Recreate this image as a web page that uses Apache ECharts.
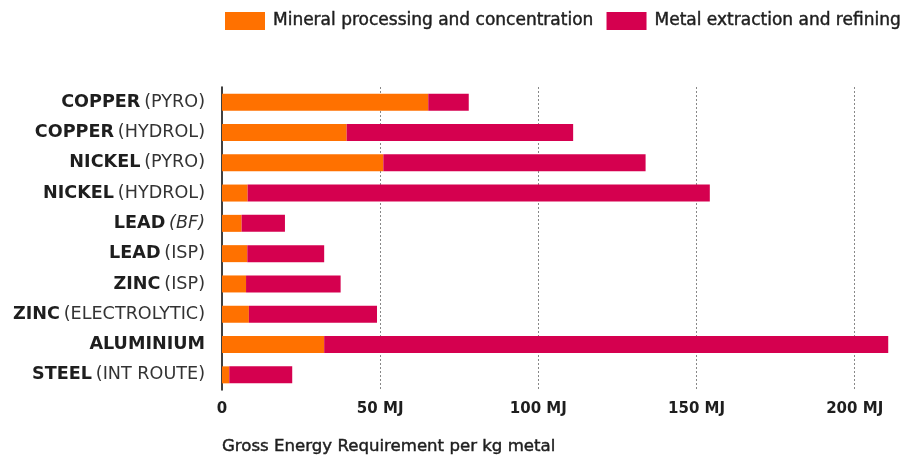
<!DOCTYPE html>
<html>
<head>
<meta charset="utf-8">
<script src="https://cdn.jsdelivr.net/npm/echarts@6/dist/echarts.min.js"></script>
<style>html,body{margin:0;padding:0;background:#fff}#c{width:914px;height:458px}</style>
</head>
<body>
<div id="c"></div>
<script>
const metals = ['COPPER','COPPER','NICKEL','NICKEL','LEAD','LEAD','ZINC','ZINC','ALUMINIUM','STEEL'];
const routes = ['(PYRO)','(HYDROL)','(PYRO)','(HYDROL)','(BF)','(ISP)','(ISP)','(ELECTROLYTIC)','','(INT ROUTE)'];
const italicRoutes = ['(BF)'];
const mineral = [65.2, 39.4, 51.0, 8.1, 6.2, 8.0, 7.6, 8.5, 32.3, 2.3];
const extraction = [12.8, 71.6, 82.9, 146.1, 13.7, 24.3, 29.9, 40.5, 178.3, 19.9];
const tickValues = [0, 50, 100, 150, 200];
const seriesNames = ['Mineral processing and concentration', 'Metal extraction and refining'];
const axisTitle = 'Gross Energy Requirement per kg metal';

const categories = metals.map((m, i) => routes[i] ? m + ' ' + routes[i] : m);
const FONT = 'DejaVu Sans';
const INK = '#1e1e1e';

const chart = echarts.init(document.getElementById('c'));
chart.setOption({
  animation: false,
  textStyle: { fontFamily: FONT },
  title: {
    text: axisTitle, left: 222, top: 438, padding: 0,
    textStyle: { fontFamily: FONT, fontSize: 16.6, fontWeight: 'normal', color: INK,
                 textBorderColor: INK, textBorderWidth: 0.45 }
  },
  legend: {
    left: 225, top: 12, padding: 0, itemWidth: 40, itemHeight: 18, itemGap: 13,
    icon: 'rect',
    textStyle: { fontFamily: FONT, fontSize: 17, fontWeight: 'normal', color: INK,
                 textBorderColor: INK, textBorderWidth: 0.45, padding: [0, 0, 0, 3] },
    data: seriesNames
  },
  grid: { left: 222, right: 914 - (222 + 212 * 3.1635), top: 87, bottom: 68, containLabel: false },
  xAxis: {
    type: 'value', min: 0, max: 212, interval: 50,
    splitLine: { show: false },
    axisLine: { show: false }, axisTick: { show: false },
    axisLabel: {
      margin: 12, fontFamily: FONT, fontSize: 15, fontWeight: 'bold', color: INK,
      formatter: v => tickValues.indexOf(v) < 0 ? '' : (v === 0 ? '0' : v + ' MJ')
    }
  },
  yAxis: {
    type: 'category', inverse: true, data: categories,
    axisLine: { show: true, lineStyle: { color: '#000', width: 1.5 } },
    axisTick: { show: false },
    axisLabel: {
      margin: 17,
      formatter: (v, i) => {
        const r = routes[i];
        if (!r) return '{b|' + metals[i] + '}';
        return '{b|' + metals[i] + '} {' + (italicRoutes.indexOf(r) >= 0 ? 'i' : 'r') + '|' + r + '}';
      },
      rich: {
        b: { fontFamily: FONT, fontSize: 17.6, fontWeight: 'bold', color: INK },
        r: { fontFamily: FONT, fontSize: 17.6, fontWeight: 'normal', color: '#333' },
        i: { fontFamily: FONT, fontSize: 17.6, fontWeight: 'normal', fontStyle: 'italic', color: '#333' }
      }
    }
  },
  series: [
    {
      name: seriesNames[0], type: 'bar', stack: 'total', barWidth: 17,
      itemStyle: { color: '#FF7100' }, data: mineral, z: 3
    },
    {
      name: seriesNames[1], type: 'bar', stack: 'total', barWidth: 17,
      itemStyle: { color: '#D5004F' }, data: extraction, z: 3,
      markLine: {
        silent: true, symbol: 'none', label: { show: false },
        lineStyle: { color: '#888', type: [2, 2], width: 1 },
        data: tickValues.filter(v => v > 0).map(v => ({ xAxis: v })),
        z: 1
      }
    }
  ]
});
</script>
</body>
</html>
